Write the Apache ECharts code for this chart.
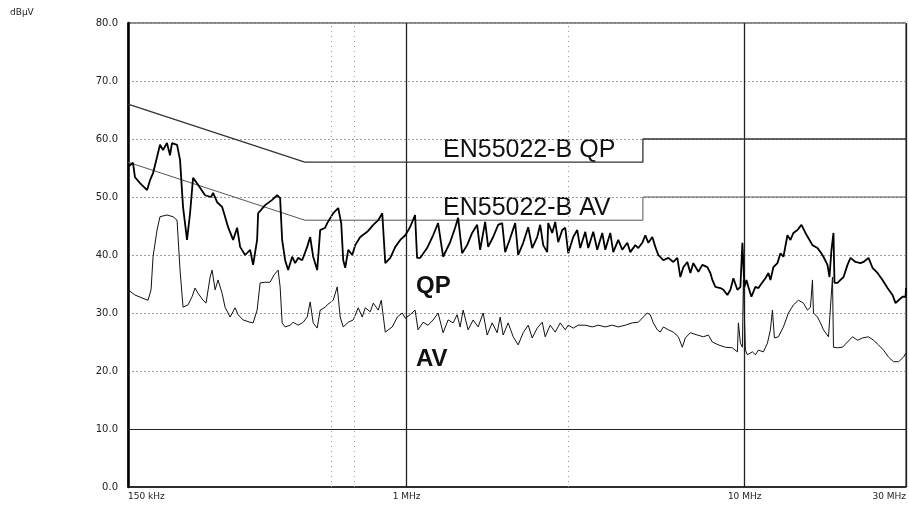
<!DOCTYPE html>
<html>
<head>
<meta charset="utf-8">
<script src="https://cdn.jsdelivr.net/npm/echarts@6/dist/echarts.min.js"></script>
<style>
html,body{margin:0;padding:0;background:#fff;}
#chart{width:909px;height:508px;}
</style>
</head>
<body>
<div id="chart"></div>
<script>
// Frequency in MHz, level in dBµV
const qpFreq = [0.150,0.1552,0.1573,0.1628,0.1708,0.1743,0.1779,0.1828,0.1865,0.1904,0.1956,0.1997,0.2024,0.2095,0.2138,0.2182,0.2242,0.2289,0.2336,0.2417,0.2535,0.2641,0.2678,0.2752,0.2847,0.2905,0.2966,0.3069,0.3154,0.3219,0.3330,0.3446,0.3517,0.3614,0.3639,0.3817,0.4004,0.4142,0.4227,0.4285,0.4374,0.4465,0.4588,0.4683,0.4780,0.4912,0.5082,0.5187,0.5294,0.5441,0.5553,0.5746,
0.5825,0.6068,0.6278,0.6408,0.6496,0.6585,0.6721,0.6907,0.7049,0.7294,0.7650,0.7970,0.8247,0.8475,0.8533,0.8650,0.8950,0.9261,0.9581,0.9913,1.0241,1.0596,1.0742,1.0964,1.1500,1.1980,1.2395,1.2825,1.3452,1.3918,1.4206,1.4599,1.5105,1.5629,1.6171,1.6505,1.7077,1.7430,1.8035,1.8660,1.9176,1.9572,2.0250,2.0952,2.1385,
2.2127,2.2893,2.3526,2.4342,2.4845,2.5358,2.6059,2.6237,2.6963,2.7519,2.8089,2.8865,2.9461,3.0070,3.1113,3.1973,3.2633,3.3765,3.4462,3.5657,3.6643,3.7914,3.8697,4.0038,4.0865,4.2282,4.3451,4.4957,4.5886,4.7476,4.8458,4.9798,5.0826,5.1876,5.3310,5.4411,5.5535,5.7460,5.9453,6.1513,6.3215,6.4520,6.5853,6.7674,6.9071,7.0498,7.2943,7.4960,
7.7559,7.9161,8.0248,8.1905,8.4745,8.6497,8.8887,9.0723,9.2599,9.5158,9.7124,9.8458,9.9809,10.118,10.257,10.468,10.758,10.981,11.284,11.517,11.755,11.916,12.162,12.499,12.757,13.021,13.380,13.656,13.938,14.324,14.720,15.127,15.440,15.867,16.416,16.755,17.101,17.574,17.815,18.060,18.308,18.433,18.814,19.203,19.600,20.141,20.557,21.270,22.007,22.462,23.241,23.883,24.711,25.568,26.454,27.371,27.936,28.515,29.303,29.908,30.0];
const qpLevel = [55.2,55.9,53.4,52.4,51.2,52.9,54.1,56.9,59.0,58.1,59.3,57.2,59.3,59.0,56.4,48.3,42.6,47.2,53.3,52.1,50.3,50.0,50.7,49.1,48.3,46.6,44.8,42.6,44.7,41.4,40.0,40.9,38.3,42.6,47.2,48.6,49.5,50.3,49.8,42.6,39.1,37.4,39.7,38.6,39.5,39.1,41.4,43.1,39.7,37.4,44.3,44.7,
45.5,47.2,48.1,45.5,39.1,37.8,40.9,40.0,41.7,43.1,44.0,45.2,46.0,47.2,44.3,38.6,39.5,41.4,42.6,43.4,44.8,46.9,39.5,39.5,41.2,43.4,45.5,39.7,42.2,44.7,46.4,40.3,41.7,43.8,45.2,40.9,45.7,41.4,43.1,45.2,45.5,40.5,42.9,45.5,40.0,
42.1,44.8,41.2,43.1,45.2,41.7,40.5,45.5,43.8,45.7,42.2,44.3,44.7,40.3,43.1,44.3,41.2,44.0,41.2,44.0,40.9,43.8,40.9,43.8,40.5,42.6,40.9,42.1,40.5,41.7,41.2,42.1,43.4,42.1,43.1,41.4,40.0,39.1,39.5,38.8,39.5,36.2,37.9,38.8,36.9,38.6,37.1,38.3,
37.9,36.9,35.7,34.5,34.3,34.0,33.1,34.0,36.0,34.0,34.5,42.1,34.5,35.7,34.5,32.8,34.5,34.3,35.3,36.0,36.9,35.7,37.9,38.6,40.3,39.7,43.4,42.6,43.8,44.3,45.2,43.8,42.9,41.7,41.2,40.5,39.7,38.3,36.2,40.9,43.8,35.2,35.2,35.7,36.2,38.3,39.5,38.8,38.6,38.8,39.5,37.8,36.9,35.7,34.3,33.1,31.7,32.2,32.8,32.8,34.3];

const avFreq = [0.1500,0.1573,0.1650,0.1719,0.1755,0.1779,0.1828,0.1865,0.1956,0.2038,0.2095,0.2138,0.2182,0.2258,0.2320,0.2368,0.2417,0.2501,0.2552,0.2624,0.2660,0.2715,0.2770,0.2847,0.2905,0.3007,0.3111,0.3175,0.3285,0.3446,0.3517,0.3614,0.3689,0.3817,0.3949,0.4059,0.4170,0.4227,0.4285,0.4374,0.4526,0.4620,0.4780,0.4946,0.5082,0.5187,0.5294,0.5441,0.5553,0.5746,
0.5825,0.6068,0.6236,0.6364,0.6496,0.6721,0.6954,0.7195,0.7394,0.7547,0.7809,0.7970,0.8247,0.8417,0.8650,0.9073,0.9388,0.9712,0.9913,1.0241,1.0596,1.0815,1.1190,1.1579,1.1980,1.2395,1.2825,1.3270,1.3730,1.4110,1.4401,1.4699,1.5208,1.5736,1.6282,1.6846,1.7312,1.7912,1.8533,1.8916,1.9307,1.9976,2.0668,2.1385,
2.2127,2.2893,2.3526,2.4342,2.5186,2.5706,2.6597,2.7519,2.8474,2.9461,3.0070,3.1113,3.2192,3.3765,3.5415,3.6894,3.8697,4.0589,4.2282,4.4348,4.6516,4.8458,5.0138,5.1524,5.2588,5.3675,5.5158,5.6297,5.7460,5.9453,6.1513,6.3647,6.5407,6.6757,6.9071,7.2448,7.5473,7.8089,
8.0248,8.3598,8.7684,9.1970,9.5158,9.5809,9.7124,9.8458,9.9130,10.049,10.187,10.540,10.758,10.981,11.361,11.675,11.916,12.080,12.246,12.584,13.021,13.471,13.938,14.422,14.922,15.335,15.652,15.867,15.975,16.416,16.755,17.101,17.694,17.937,18.184,18.308,18.814,19.466,20.141,20.839,21.562,22.310,23.241,24.046,24.880,25.742,26.635,27.558,28.515,29.503,30.0];
const avLevel = [34.0,33.1,32.6,32.2,34.0,39.7,44.3,46.6,46.9,46.6,46.0,37.4,31.0,31.4,32.8,34.3,33.4,32.2,31.7,36.2,37.4,34.0,35.7,33.4,31.0,29.3,30.9,29.7,28.8,28.4,28.3,30.5,35.2,35.3,35.3,36.6,37.4,34.5,28.3,27.6,27.9,28.4,27.9,28.4,29.3,31.9,28.3,27.4,30.5,31.0,
31.4,32.2,34.5,29.3,27.6,28.4,28.8,30.9,29.3,30.9,30.2,31.7,30.5,32.2,26.7,27.6,29.3,30.0,29.1,29.7,30.5,27.1,28.4,27.9,28.8,30.0,26.6,28.8,28.3,29.7,27.6,30.5,27.1,28.8,27.6,30.0,26.2,28.3,26.6,29.3,26.2,28.3,25.9,24.5,
26.6,27.9,25.7,27.4,28.4,25.9,27.9,26.7,28.3,27.1,27.9,27.4,27.9,27.9,27.6,27.9,27.6,27.9,27.6,27.9,28.3,28.4,29.3,30.0,29.7,28.3,27.1,26.7,27.6,27.1,26.7,25.9,24.1,25.7,26.6,26.2,25.9,26.2,
25.0,24.5,24.1,24.0,23.3,28.3,24.8,24.1,35.7,23.6,22.8,23.3,22.8,23.6,23.3,24.8,27.1,30.5,25.7,25.9,27.6,30.0,31.4,32.2,31.7,30.5,31.0,35.7,30.0,29.3,28.3,27.1,25.9,31.0,36.2,24.1,24.0,24.1,25.0,25.9,25.3,25.7,25.9,25.3,24.5,23.6,22.4,21.6,21.6,22.4,23.1];

const limitQpFreq = [0.15, 0.5, 5, 5, 30];
const limitQpLevel = [66, 56, 56, 60, 60];
const limitAvFreq = [0.15, 0.5, 5, 5, 30];
const limitAvLevel = [56, 46, 46, 50, 50];

const xTickValues = [0.15, 1, 10, 30];
const xTickLabels = ['150 kHz', '1 MHz', '10 MHz', '30 MHz'];
const minorGridFreq = [0.6, 0.7, 3];
const yUnit = 'dBμV';

function zip(a, b) { return a.map((v, i) => [v, b[i]]); }

const chart = echarts.init(document.getElementById('chart'), null, {renderer: 'canvas'});
const font = 'DejaVu Sans, Liberation Sans, Arial, sans-serif';
const bigFont = 'Liberation Sans, Arial, sans-serif';

chart.setOption({
  animation: false,
  backgroundColor: '#fff',
  grid: {left: 128, right: 2, top: 23, bottom: 21, show: true, borderColor: '#111', borderWidth: 1},
  xAxis: {
    type: 'log', logBase: 10, min: 0.15, max: 30,
    axisLine: {show: true, lineStyle: {color: '#111', width: 1.5}},
    axisTick: {show: false},
    splitLine: {show: true, lineStyle: {color: '#222', width: 1.3}},
    axisLabel: {
      show: true, fontSize: 9, color: '#222', fontFamily: font, margin: 5,
      alignMinLabel: 'left', alignMaxLabel: 'right',
      formatter: function (v) {
        for (let i = 0; i < xTickValues.length; i++) {
          if (Math.abs(v - xTickValues[i]) / xTickValues[i] < 0.01) return xTickLabels[i];
        }
        return '';
      }
    }
  },
  yAxis: {
    type: 'value', min: 0, max: 80, interval: 10,
    axisLine: {show: true, lineStyle: {color: '#000', width: 2.5}},
    axisTick: {show: false},
    splitLine: {show: true, lineStyle: {color: '#9a9a9a', width: 1, type: [2, 2]}},
    axisLabel: {fontSize: 10, color: '#222', fontFamily: font, margin: 10,
      formatter: function (v) { return v.toFixed(1); }}
  },
  graphic: [
    {type: 'text', left: 10, top: 8, style: {text: yUnit, fontSize: 9, fill: '#222', fontFamily: font}},
    {type: 'text', left: 443, top: 138, style: {text: 'EN55022-B QP', fontSize: 25, fill: '#111', fontFamily: bigFont}},
    {type: 'text', left: 443, top: 196, style: {text: 'EN55022-B AV', fontSize: 25, fill: '#111', fontFamily: bigFont}},
    {type: 'text', left: 416, top: 274, style: {text: 'QP', fontSize: 24, fontWeight: 'bold', fill: '#111', fontFamily: bigFont}},
    {type: 'text', left: 416, top: 347, style: {text: 'AV', fontSize: 24, fontWeight: 'bold', fill: '#111', fontFamily: bigFont}}
  ],
  series: [
    {
      name: 'grid-extra', type: 'line', data: [], silent: true,
      markLine: {
        silent: true, symbol: 'none', label: {show: false},
        data: [
          {yAxis: 10, lineStyle: {color: '#222', width: 1.2, type: 'solid'}}
        ].concat(minorGridFreq.map(f => ({xAxis: f, lineStyle: {color: '#9a9a9a', width: 1, type: [1, 4]}})))
      }
    },
    {
      name: 'EN55022-B QP', type: 'line', data: zip(limitQpFreq, limitQpLevel),
      symbol: 'none', lineStyle: {color: '#333', width: 1.3}, z: 3
    },
    {
      name: 'EN55022-B AV', type: 'line', data: zip(limitAvFreq, limitAvLevel),
      symbol: 'none', lineStyle: {color: '#555', width: 1}, z: 3
    },
    {
      name: 'QP', type: 'line', data: zip(qpFreq, qpLevel),
      symbol: 'none', lineStyle: {color: '#000', width: 1.8}, z: 4
    },
    {
      name: 'AV', type: 'line', data: zip(avFreq, avLevel),
      symbol: 'none', lineStyle: {color: '#111', width: 1}, z: 4
    }
  ]
});
</script>
</body>
</html>
